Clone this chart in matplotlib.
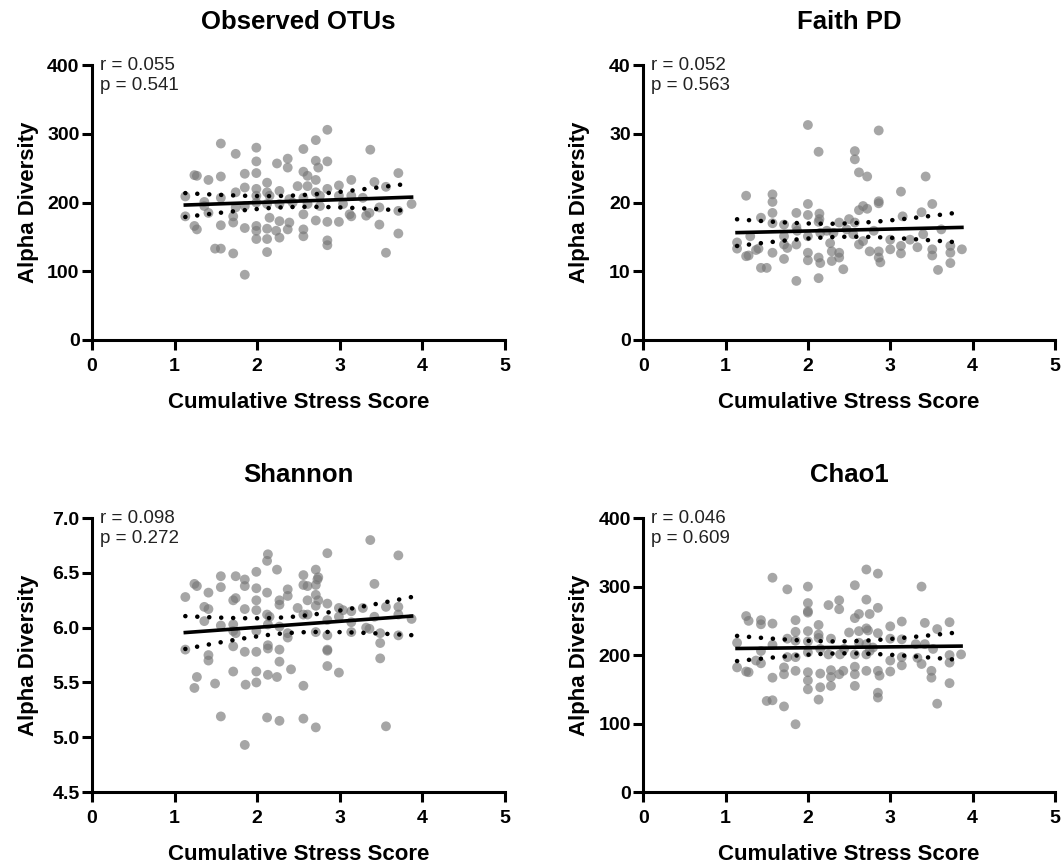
import numpy as np
import matplotlib
matplotlib.use('Agg')
import matplotlib.pyplot as plt

plt.rcParams['font.family'] = ['Liberation Sans', 'DejaVu Sans']

# Observed OTUs
otu_x = [1.56,1.74,1.99,2.56,2.71,2.85,3.37,
         1.99,2.24,2.37,2.37,2.71,2.85,2.74,
         1.24,1.27,1.41,1.56,1.85,1.99,2.56,2.61,2.71,3.71,
         1.13,1.74,1.85,1.99,2.12,2.27,2.49,2.61,2.85,2.99,3.14,3.42,3.56,
         1.36,1.56,1.99,2.12,2.15,2.39,2.56,2.71,2.76,2.99,3.14,3.28,
         1.36,1.41,1.74,1.85,1.99,2.12,2.27,2.43,2.61,2.76,3.04,3.48,3.87,3.71,3.36,3.12,3.32,
         1.13,1.71,1.71,1.85,1.99,2.15,2.27,2.39,2.56,2.71,2.85,2.99,3.14,3.48,
         1.24,1.27,1.56,1.99,2.12,2.23,2.37,2.56,3.71,
         1.99,2.12,2.27,2.56,2.85,2.85,
         1.49,1.56,1.71,2.12,3.56,
         1.85]
otu_y = [286,271,280,278,291,306,277,
         260,257,264,251,261,260,251,
         240,239,233,238,242,243,245,239,233,243,
         209,215,222,220,229,217,224,224,220,225,233,230,223,
         201,207,210,215,210,205,207,215,210,210,210,207,
         195,185,193,195,200,198,198,200,198,195,198,193,198,188,185,183,181,
         180,180,171,163,166,178,173,171,183,174,172,172,180,168,
         166,161,167,159,162,159,161,161,155,
         147,147,149,151,145,138,
         133,133,126,128,127,
         95]

# Faith PD
pd_x = [2.00,2.86,2.13,2.57,2.57,2.62,2.72,3.43,
        1.25,1.57,1.57,1.57,2.00,2.86,2.86,3.13,3.51,
        1.86,2.00,2.14,2.14,2.13,1.43,1.57,1.71,1.86,2.38,2.50,2.57,2.62,2.67,2.72,3.38,3.15,
        1.14,1.14,1.25,1.28,1.37,1.40,1.57,1.71,1.75,1.86,2.00,2.00,2.00,2.13,2.15,2.27,2.29,2.38,
        2.38,2.29,2.43,2.62,2.67,2.75,2.86,2.86,2.88,3.00,3.13,3.13,3.33,3.51,3.51,3.73,3.73,3.73,
        3.87,3.58,
        1.43,1.50,1.71,1.86,2.13,
        2.15,2.23,2.31,2.47,2.55,2.80,3.00,3.24,3.40,3.62,1.87,1.71,1.30]
pd_y = [31.3,30.5,27.4,27.5,26.3,24.4,23.8,23.8,
        21.0,21.2,20.1,18.5,19.8,20.2,19.9,21.6,19.8,
        18.5,18.2,18.4,17.6,17.2,17.8,17.0,16.8,16.5,17.1,17.6,17.1,18.9,19.5,19.1,18.6,18.0,
        14.2,13.3,12.2,12.3,13.1,13.3,12.7,13.9,13.4,13.9,15.1,12.7,11.6,12.0,11.2,14.1,12.9,12.7,
        12.0,11.5,10.3,13.9,14.4,12.9,12.9,12.0,11.3,13.2,13.7,12.6,13.5,13.2,12.3,13.7,12.7,11.2,
        13.2,10.2,
        10.5,10.5,11.8,8.6,9.0,
        15.6,15.9,15.6,16.1,15.4,15.9,14.6,14.6,15.4,16.1,15.9,15.1,15.1]

# Shannon
sh_x = [3.37,3.71,2.85,2.13,2.12,2.24,1.99,2.56,2.71,2.74,1.56,1.74,1.85,1.24,1.27,1.56,1.85,1.41,
        1.99,2.12,2.56,2.61,2.71,2.73,2.37,2.37,3.42,
        1.13,1.74,1.71,1.99,2.27,2.27,2.71,2.74,2.61,2.85,1.36,1.41,1.85,1.99,2.12,2.15,2.49,2.61,
        2.56,2.71,2.99,3.04,3.14,3.28,3.56,3.71,3.71,3.42,3.87,1.36,1.56,1.71,1.71,1.74,1.99,2.13,
        2.27,2.37,2.37,2.71,2.85,2.85,3.14,3.14,3.32,3.36,3.49,3.71,2.99,
        1.13,1.41,1.41,1.71,1.85,1.99,2.13,2.13,2.27,2.27,2.85,2.85,3.49,3.49,2.41,2.85,2.99,1.27,
        1.24,1.49,1.71,1.99,2.13,2.24,1.86,1.99,2.56,
        1.56,2.12,2.27,2.56,2.71,3.56,1.85]
sh_y = [6.80,6.66,6.68,6.67,6.61,6.53,6.51,6.48,6.53,6.46,6.47,6.47,6.44,6.40,6.38,6.37,6.38,6.32,
        6.36,6.32,6.39,6.38,6.39,6.44,6.35,6.29,6.40,
        6.28,6.27,6.25,6.25,6.25,6.21,6.30,6.25,6.25,6.22,6.19,6.17,6.17,6.16,6.12,6.10,6.18,6.12,
        6.12,6.20,6.18,6.16,6.15,6.18,6.19,6.19,6.12,6.10,6.08,6.06,6.02,6.03,5.97,5.95,5.97,6.03,
        6.01,5.95,5.91,5.96,6.07,5.93,6.05,5.96,6.00,5.99,5.95,5.93,6.10,
        5.80,5.75,5.70,5.83,5.78,5.78,5.84,5.81,5.80,5.69,5.80,5.79,5.86,5.72,5.62,5.65,5.59,5.55,
        5.45,5.49,5.60,5.60,5.57,5.55,5.48,5.50,5.47,
        5.19,5.18,5.15,5.17,5.09,5.10,4.93]

# Chao1
ch_x = [1.57,2.71,2.85,1.75,2.00,2.57,3.38,2.00,2.25,2.38,2.38,2.71,2.85,2.62,2.57,2.75,
        1.25,1.28,1.43,1.43,1.57,1.85,2.00,2.00,2.13,1.85,2.00,2.50,2.62,2.71,2.73,3.00,3.14,
        3.42,3.57,3.72,2.85,
        1.14,1.75,1.85,2.00,2.13,2.13,2.28,2.44,2.62,2.71,2.79,3.00,3.14,3.31,3.42,3.52,3.86,3.72,
        1.43,1.37,1.43,1.57,1.75,1.85,2.00,2.15,2.25,2.39,2.57,2.71,2.75,3.00,3.14,3.33,3.72,3.38,
        1.14,1.25,1.28,1.57,1.71,1.71,1.85,2.00,2.00,2.15,2.28,2.28,2.38,2.43,2.57,2.57,2.71,2.85,
        2.87,3.00,3.14,3.50,3.50,3.72,
        2.00,2.15,2.28,2.57,2.85,2.85,1.50,1.57,1.71,2.13,3.57,1.85]
ch_y = [313,325,319,296,300,302,300,276,273,280,267,281,269,260,254,260,
        257,250,251,245,246,251,264,262,244,234,235,233,235,239,236,242,249,
        247,238,248,232,
        218,224,221,220,230,225,224,209,218,216,211,224,223,216,216,209,201,200,
        206,192,188,215,197,197,204,209,201,201,201,201,206,192,197,196,189,187,
        182,176,175,167,182,172,177,175,163,173,178,168,172,177,172,183,177,177,
        170,176,185,177,167,159,
        150,153,155,155,145,138,133,134,125,135,129,99]

titles = ['Observed OTUs', 'Faith PD', 'Shannon', 'Chao1']
r_vals = ['0.055', '0.052', '0.098', '0.046']
p_vals = ['0.541', '0.563', '0.272', '0.609']
y_ticks = [[0, 100, 200, 300, 400],
           [0, 10, 20, 30, 40],
           [4.5, 5.0, 5.5, 6.0, 6.5, 7.0],
           [0, 100, 200, 300, 400]]
y_fmt = ['{:.0f}', '{:.0f}', '{:.1f}', '{:.0f}']
datasets = [(otu_x, otu_y), (pd_x, pd_y), (sh_x, sh_y), (ch_x, ch_y)]

fig = plt.figure(figsize=(10.64, 8.64), dpi=100)
boxes = [[0.0865, 0.6065, 0.388, 0.318],
         [0.6045, 0.6065, 0.387, 0.318],
         [0.0865, 0.0833, 0.388, 0.317],
         [0.6045, 0.0833, 0.387, 0.317]]

for i in range(4):
    ax = fig.add_axes(boxes[i])
    x = np.array(datasets[i][0])
    y = np.array(datasets[i][1])
    ax.scatter(x, y, s=50, color='#777777', alpha=0.65, edgecolors='none', zorder=2)

    # linear fit and 95% confidence band
    n = len(x)
    b, a = np.polyfit(x, y, 1)
    xs = np.linspace(x.min(), x.max(), 100)
    yfit = a + b * xs
    resid = y - (a + b * x)
    s_err = np.sqrt(np.sum(resid ** 2) / (n - 2))
    ci = 1.98 * s_err * np.sqrt(1.0 / n + (xs - x.mean()) ** 2 / np.sum((x - x.mean()) ** 2))
    ax.plot(xs, yfit, color='black', lw=2.6, zorder=3)
    for yy in (yfit + ci, yfit - ci):
        ax.plot(xs, yy, color='black', lw=3.3, linestyle=(0, (0.01, 2.6)),
                dash_capstyle='round', zorder=3)

    ax.set_xlim(0, 5)
    ax.set_xticks([0, 1, 2, 3, 4, 5])
    yt = y_ticks[i]
    ax.set_ylim(yt[0], yt[-1])
    ax.set_yticks(yt)
    ax.set_yticklabels([y_fmt[i].format(v) for v in yt])

    for side in ['top', 'right']:
        ax.spines[side].set_visible(False)
    for side in ['left', 'bottom']:
        ax.spines[side].set_linewidth(2.2)
    ax.tick_params(width=2.2, length=7, labelsize=14)
    ax.tick_params(axis='x', pad=6)
    ax.tick_params(axis='y', pad=2)
    for lab in ax.get_xticklabels() + ax.get_yticklabels():
        lab.set_fontweight('bold')

    ax.set_title(titles[i], fontsize=18.5, fontweight='bold', pad=26)
    ax.set_xlabel('Cumulative Stress Score', fontsize=16, fontweight='bold')
    ax.set_ylabel('Alpha Diversity', fontsize=16, fontweight='bold')
    ax.xaxis.set_label_coords(0.5, -0.19)
    ax.yaxis.set_label_coords(-0.128, 0.5)
    ax.text(0.02, 1.03, 'r = ' + r_vals[i] + '\np = ' + p_vals[i],
            transform=ax.transAxes, ha='left', va='top', fontsize=13.5,
            color='#222222', linespacing=1.2)

fig.savefig('out.png', dpi=100)
